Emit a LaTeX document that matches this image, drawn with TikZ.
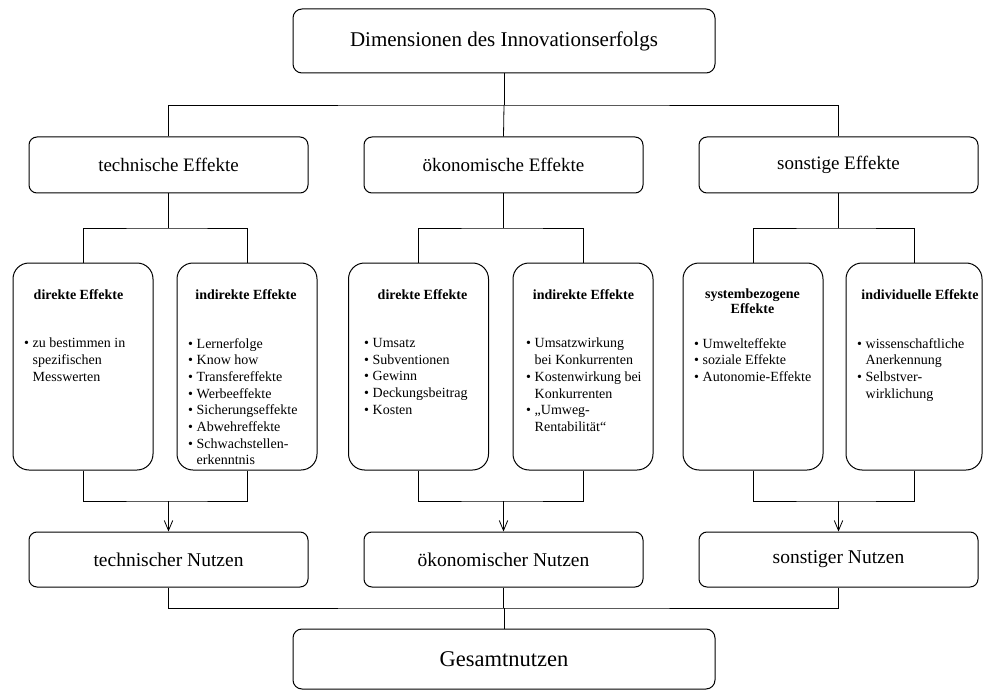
\documentclass[tikz,border=0pt]{standalone}
\usepackage{fontspec}
\setmainfont{Liberation Serif}
\usetikzlibrary{arrows.meta}
\newcommand\bitem[1]{\makebox[8.5pt][l]{\textbullet}#1}
\newcommand\bcont[1]{\hspace*{8.5pt}#1}
\begin{document}
\begin{tikzpicture}[x=1pt,y=-1pt,
  box/.style={draw, line width=1pt, inner sep=0pt},
  bigbox/.style={box, rounded corners=9pt, minimum width=422pt, minimum height=64pt, font=\fontsize{21}{26}\selectfont},
  midbox/.style={box, rounded corners=8pt, minimum width=279pt, minimum height=56pt, font=\fontsize{19}{23}\selectfont},
  effbox/.style={box, rounded corners=16pt, minimum width=140pt, minimum height=207pt},
  head/.style={anchor=north, inner sep=0pt, align=center, font=\fontsize{14}{15}\selectfont\bfseries},
  lst/.style={anchor=north west, inner sep=0pt, align=left, font=\fontsize{14}{16.7}\selectfont},
  conn/.style={line width=0.8pt},
  arr/.style={conn, -{Straight Barb[length=10pt,width=8.5pt]}}
]
\useasboundingbox (0,0) rectangle (983,690);

% top
\node[bigbox] (top) at (504,41) {Dimensionen des Innovationserfolgs};

% level 2
\node[midbox] (tE) at (168.5,165) {technische Effekte};
\node[midbox] (oE) at (503.5,165) {ökonomische Effekte};
\node[midbox] (sE) at (838.5,165) {sonstige Effekte};

% level 3 boxes
\node[effbox] (tD) at (83,366.5) {};
\node[effbox] (tI) at (247,366.5) {};
\node[effbox] (oD) at (418.5,366.5) {};
\node[effbox] (oI) at (583,366.5) {};
\node[effbox] (sS) at (753,366.5) {};
\node[effbox, minimum width=136pt] (sI) at (914,366.5) {};

% headings
\node[head] (htD) at (78.5,289) {direkte Effekte};
\node[head] (htI) at (246,289) {indirekte Effekte};
\node[head] (hoD) at (422.5,289) {direkte Effekte};
\node[head] (hoI) at (583.5,289) {indirekte Effekte};
\node[head] (hsS) at (752.5,289) {systembezogene\\Effekte};
\node[head] (hsI) at (920,289) {individuelle Effekte};

% lists
\node[lst] (ltD) at (24,338) {\bitem{zu bestimmen in}\\\bcont{spezifischen}\\\bcont{Messwerten}};
\node[lst] (ltI) at (188,338) {\bitem{Lernerfolge}\\\bitem{Know how}\\\bitem{Transfereffekte}\\\bitem{Werbeeffekte}\\\bitem{Sicherungseffekte}\\\bitem{Abwehreffekte}\\\bitem{Schwachstellen-}\\\bcont{erkenntnis}};
\node[lst] (loD) at (364,338) {\bitem{Umsatz}\\\bitem{Subventionen}\\\bitem{Gewinn}\\\bitem{Deckungsbeitrag}\\\bitem{Kosten}};
\node[lst] (loI) at (526,338) {\bitem{Umsatzwirkung}\\\bcont{bei Konkurrenten}\\\bitem{Kostenwirkung bei}\\\bcont{Konkurrenten}\\\bitem{„Umweg-}\\\bcont{Rentabilität“}};
\node[lst] (lsS) at (694,338) {\bitem{Umwelteffekte}\\\bitem{soziale Effekte}\\\bitem{Autonomie-Effekte}};
\node[lst] (lsI) at (857,338) {\bitem{wissenschaftliche}\\\bcont{Anerkennung}\\\bitem{Selbstver-}\\\bcont{wirklichung}};

% Nutzen
\node[midbox, minimum height=55pt, font=\fontsize{19.5}{23}\selectfont] (tN) at (168.5,559.5) {technischer Nutzen};
\node[midbox, minimum height=55pt, font=\fontsize{19.5}{23}\selectfont] (oN) at (503.5,559.5) {ökonomischer Nutzen};
\node[midbox, minimum height=55pt, font=\fontsize{19.5}{23}\selectfont] (sN) at (838.5,559.5) {sonstiger Nutzen};

% Gesamt
\node[bigbox, minimum height=60pt, font=\fontsize{22.5}{27}\selectfont] (gN) at (504,659) {Gesamtnutzen};

% junction coordinates
\coordinate (j1) at (504,105);
\coordinate (jT) at (168.5,228);
\coordinate (jO) at (503.5,228);
\coordinate (jS) at (838.5,228);
\coordinate (kT) at (168.5,501);
\coordinate (kO) at (503.5,501);
\coordinate (kS) at (838.5,501);
\coordinate (j2) at (504,608);

% connectors top
\draw[conn] (top.south) -- (j1);
\draw[conn] (tE.north) |- (j1) -| (sE.north);
\draw[conn] (j1) -- (oE.north);

% level 2 -> level 3
\draw[conn] (tE.south) -- (jT);
\draw[conn] (tD.north) |- (jT) -| (tI.north);
\draw[conn] (oE.south) -- (jO);
\draw[conn] (oD.north) |- (jO) -| (oI.north);
\draw[conn] (sE.south) -- (jS);
\draw[conn] (sS.north) |- (jS) -| (sI.north);

% level 3 -> Nutzen
\draw[conn] (tD.south) |- (kT) -| (tI.south);
\draw[arr] (kT) -- (tN.north);
\draw[conn] (oD.south) |- (kO) -| (oI.south);
\draw[arr] (kO) -- (oN.north);
\draw[conn] (sS.south) |- (kS) -| (sI.south);
\draw[arr] (kS) -- (sN.north);

% Nutzen -> Gesamt
\draw[conn] (tN.south) |- (j2) -| (sN.south);
\draw[conn] (oN.south) -- (oN.south |- j2);
\draw[conn] (j2) -- (gN.north);
\end{tikzpicture}
\end{document}
